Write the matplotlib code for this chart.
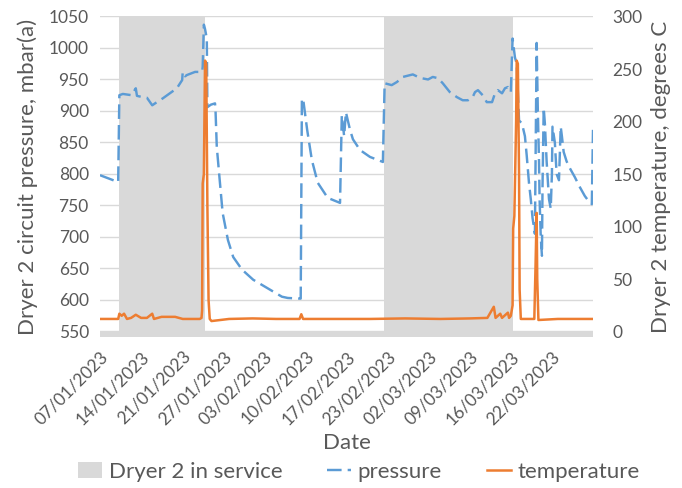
import matplotlib
matplotlib.use("Agg")
import matplotlib.pyplot as plt
from matplotlib.patches import Patch
from matplotlib.lines import Line2D

plt.rcParams['font.family'] = ['Lato', 'DejaVu Sans']

# x positions are days counted from 07/01/2023 on the category axis
tick_labels = ['07/01/2023', '14/01/2023', '21/01/2023', '27/01/2023',
               '03/02/2023', '10/02/2023', '17/02/2023', '23/02/2023',
               '02/03/2023', '09/03/2023', '16/03/2023', '22/03/2023']
tick_pos = [0, 7, 14, 21, 28, 35, 42, 49, 56, 63, 70, 77]

# periods with dryer 2 in service (start, end)
service_start = [3.2, 48.4]
service_end = [17.9, 70.3]

pressure_x = [0.0, 3.1, 3.3, 3.9, 5.4, 6.1, 6.3, 7.2, 8.0, 8.9, 9.7, 10.7,
              11.9, 13.1, 14.0, 14.1, 14.5, 14.8, 16.2, 17.4, 17.5, 17.7,
              17.9, 18.2, 18.3, 18.9, 19.6, 19.7, 19.9, 20.4, 20.9, 21.8,
              22.7, 24.2, 26.1, 29.0, 31.0, 32.0, 34.1, 34.2, 34.4, 34.6,
              35.3, 36.1, 37.1, 38.8, 40.9, 41.2, 41.6, 41.9, 42.6, 43.1,
              44.3, 46.0, 48.2, 48.5, 49.7, 50.6, 51.6, 53.3, 54.2, 54.8,
              55.9, 56.7, 57.6, 58.4, 59.6, 60.8, 61.8, 62.7, 63.5, 63.9,
              64.4, 65.2, 65.9, 66.8, 67.3, 67.8, 68.5, 69.0, 69.5, 70.0,
              70.3, 70.7, 71.0, 71.4, 71.9, 72.4, 72.7, 73.1, 73.4, 73.7,
              74.1, 74.4, 74.6, 74.8, 74.9, 75.1, 75.3, 75.4, 75.6, 75.8,
              76.1, 76.5, 76.8, 77.0, 77.1, 77.5, 77.8, 78.2, 78.5, 78.7,
              79.0, 79.5, 80.0, 80.9, 81.7, 82.6, 83.4, 83.8, 84.0]
pressure = [798, 787, 925, 927, 925, 936, 924, 922, 921, 909, 914, 920,
            928, 936, 949, 962, 955, 957, 962, 962, 970, 1037,
            1030, 1015, 906, 910, 912, 897, 843, 790, 738, 695,
            668, 648, 632, 616, 605, 603, 602, 602, 917, 920,
            870, 822, 786, 762, 754, 893, 860, 898, 870, 855,
            838, 827, 819, 944, 941, 946, 954, 958, 954, 952,
            950, 954, 952, 944, 930, 922, 917, 917, 922, 930,
            933, 925, 914, 914, 928, 933, 928, 936, 938, 930,
            1015, 985, 975, 885, 880, 860, 830, 785, 760, 730,
            705, 1008, 900, 820, 760, 700, 670, 780, 905, 880,
            820, 760, 745, 800, 875, 850, 800, 790, 875, 860,
            835, 820, 810, 795, 780, 765, 755, 752, 870]

temp_x = [0.0, 3.1, 3.3, 3.7, 4.1, 4.6, 5.3, 6.1, 7.0, 8.0, 8.9, 9.2,
          10.5, 12.8, 14.1, 17.0, 17.3, 17.4, 17.5, 17.7, 17.9, 18.1,
          18.3, 18.5, 18.7, 19.0, 22.0, 26.0, 30.0, 34.0, 34.3, 34.6,
          40.0, 46.0, 52.0, 58.0, 63.0, 66.0, 67.1, 67.4, 68.2, 68.5,
          69.5, 69.7, 70.0, 70.3, 70.4, 70.6, 70.9, 71.0, 71.2, 71.4,
          71.5, 71.7, 74.0, 74.2, 74.4, 74.5, 74.7, 78.0, 84.0]
temperature = [12, 12, 17, 15, 17, 12, 13, 16, 13, 13, 17, 12,
               14, 14, 12, 12, 13, 20, 141, 150, 258, 255,
               120, 30, 12, 10, 12, 12.5, 12, 12, 16.5, 12,
               12, 12, 12.5, 12, 12.5, 13, 23.6, 13, 17, 13,
               18, 13, 15, 25, 98, 110, 200, 258, 255, 150,
               40, 12, 12, 60, 113, 50, 11, 12, 12]

blue = '#5B9BD5'
orange = '#ED7D31'
grey = '#D9D9D9'
text_col = '#595959'

fig = plt.figure(figsize=(6.82, 4.88), dpi=100)
ax = fig.add_axes([0.1466, 0.3094, 0.7229, 0.6568])
ax2 = ax.twinx()

# service periods as grey blocks, plus the bottom strip
for s, e in zip(service_start, service_end):
    ax.axvspan(s, e, ymin=0, ymax=1, color=grey, lw=0, zorder=1)
ax.axhspan(541, 550, color=grey, lw=0, zorder=1)

ax.plot(pressure_x, pressure, color=blue, lw=1.75, dashes=(6, 2.5), zorder=3)
ax2.plot(temp_x, temperature, color=orange, lw=1.8, zorder=3)

ax.set_xlim(0, 84)
ax.set_ylim(541, 1050)
ax2.set_ylim(-5.2, 300)
ax.set_yticks(range(550, 1051, 50))
ax2.set_yticks(range(0, 301, 50))
ax.set_xticks(tick_pos)
ax.set_xticklabels(tick_labels, rotation=45, ha='right', rotation_mode='anchor')

ax.set_axisbelow(True)
ax.grid(axis='y', color=grey, lw=1, zorder=0)
for a in (ax, ax2):
    for sp in a.spines.values():
        sp.set_visible(False)
    a.tick_params(length=0, labelsize=12.5, colors=text_col)
ax.tick_params(axis='y', pad=8)
ax.tick_params(axis='x', pad=8)
ax2.tick_params(axis='y', pad=14)

ax.set_ylabel('Dryer 2 circuit pressure, mbar(a)', fontsize=16, color=text_col, labelpad=8)
ax2.set_ylabel('Dryer 2 temperature, degrees C', fontsize=16, color=text_col, labelpad=6)
ax.set_xlabel('Date', fontsize=16, color=text_col, labelpad=4)

handles = [Patch(facecolor=grey, edgecolor='none'),
           Line2D([], [], color=blue, lw=1.75, dashes=(6, 2.5)),
           Line2D([], [], color=orange, lw=1.8)]
fig.legend(handles, ['Dryer 2 in service', 'pressure', 'temperature'],
           loc='center', bbox_to_anchor=(0.526, 0.033), ncol=3, frameon=False,
           fontsize=16, labelcolor=text_col, handlelength=1.1, handletextpad=0.3,
           columnspacing=2.0)

fig.savefig('out.png', dpi=100)
